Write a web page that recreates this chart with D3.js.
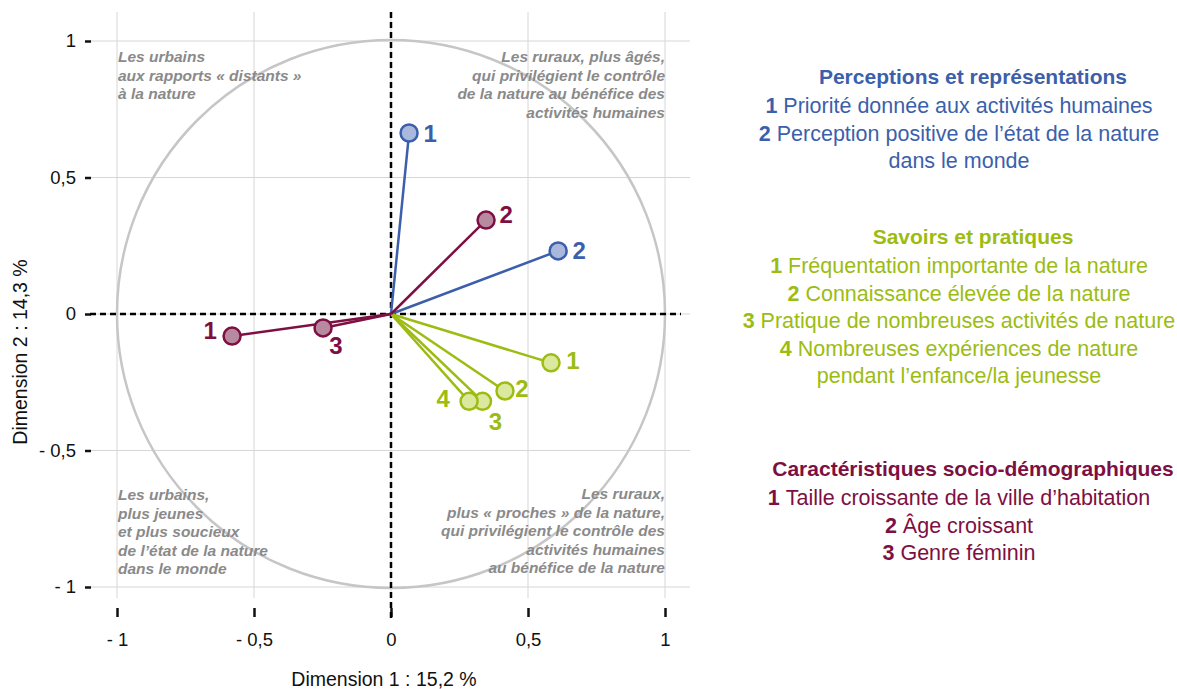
<!DOCTYPE html>
<html><head><meta charset="utf-8">
<script src="https://cdn.jsdelivr.net/npm/d3@7"></script>
<style>
body{margin:0;background:#fff;}
svg{display:block;font-family:"Liberation Sans",Arial,Helvetica,sans-serif;}
</style></head>
<body><svg id="chart" width="1177" height="689"></svg>
<script>
// ---- data ----
const groupKeys = ["perc", "sav", "soc"];
const groupTitles = ["Perceptions et représentations", "Savoirs et pratiques", "Caractéristiques socio-démographiques"];
const varGroup = ["perc", "perc", "sav", "sav", "sav", "sav", "soc", "soc", "soc"];
const varNum   = ["1", "2", "1", "2", "3", "4", "1", "2", "3"];
const dim1     = [0.066, 0.610, 0.584, 0.416, 0.334, 0.285, -0.580, 0.347, -0.248];
const dim2     = [0.663, 0.231, -0.179, -0.282, -0.320, -0.320, -0.081, 0.344, -0.051];
const legendPerc = [["1", "Priorité donnée aux activités humaines"], ["2", "Perception positive de l’état de la nature"], ["", "dans le monde"]];
const legendSav  = [["1", "Fréquentation importante de la nature"], ["2", "Connaissance élevée de la nature"], ["3", "Pratique de nombreuses activités de nature"], ["4", "Nombreuses expériences de nature"], ["", "pendant l’enfance/la jeunesse"]];
const legendSoc  = [["1", "Taille croissante de la ville d’habitation"], ["2", "Âge croissant"], ["3", "Genre féminin"]];
const xTicks = [-1, -0.5, 0, 0.5, 1];
const yTicks = [-1, -0.5, 0, 0.5, 1];
const xTitle = "Dimension 1 : 15,2 %";
const yTitle = "Dimension 2 : 14,3 %";
const quadrantTexts = [
  ["Les urbains", "aux rapports « distants »", "à la nature"],
  ["Les ruraux, plus âgés,", "qui privilégient le contrôle", "de la nature au bénéfice des", "activités humaines"],
  ["Les urbains,", "plus jeunes", "et plus soucieux", "de l’état de la nature", "dans le monde"],
  ["Les ruraux,", "plus « proches » de la nature,", "qui privilégient le contrôle des", "activités humaines", "au bénéfice de la nature"]
];

// ---- layout / style ----
const colors = {perc: "#3c5fab", sav: "#9cbc12", soc: "#7e0f42"};
const fills  = {perc: "#a9b8dc", sav: "#dbe89e", soc: "#b88a9f"};
const labelOffsets = [[21, 0], [21, -1], [22, -3], [17, -3], [13, 20], [-26, -3], [-22, -6], [20, -6], [13, 17]];

const svg = d3.select("#chart");
const x = d3.scaleLinear().domain([-1, 1]).range([117, 665]);
const y = d3.scaleLinear().domain([-1, 1]).range([587, 41]);
const fmt = v => v === 0 ? "0" : (v < 0 ? "- " : "") + String(Math.abs(v)).replace(".", ",");

// grid
const grid = svg.append("g");
grid.selectAll("line.h").data(yTicks).join("line")
  .attr("x1", 90).attr("x2", 690).attr("y1", d => y(d)).attr("y2", d => y(d))
  .attr("stroke", "#d6d6d6").attr("stroke-width", 1);
grid.selectAll("line.v").data(xTicks).join("line")
  .attr("y1", 12).attr("y2", 598).attr("x1", d => x(d)).attr("x2", d => x(d))
  .attr("stroke", "#d6d6d6").attr("stroke-width", 1);

// x axis
const xAxis = d3.axisBottom(x).tickValues(xTicks).tickFormat(fmt).tickSize(9).tickPadding(16);
const gx = svg.append("g").attr("transform", "translate(0,608)").call(xAxis);
gx.select(".domain").remove();
gx.selectAll(".tick line").attr("stroke", "#111").attr("stroke-width", 2.5);
gx.selectAll(".tick text").attr("font-size", 18.5).attr("fill", "#111")
  .attr("font-family", "Liberation Sans, Arial, sans-serif");

// y axis
const yAxis = d3.axisLeft(y).tickValues(yTicks).tickFormat(fmt).tickSize(6).tickPadding(9);
const gy = svg.append("g").attr("transform", "translate(91,0)").call(yAxis);
gy.select(".domain").remove();
gy.selectAll(".tick line").attr("stroke", "#111").attr("stroke-width", 2.5);
gy.selectAll(".tick text").attr("font-size", 18.5).attr("fill", "#111")
  .attr("font-family", "Liberation Sans, Arial, sans-serif");

// axis titles
svg.append("text").attr("x", 384).attr("y", 686).attr("text-anchor", "middle")
  .attr("font-size", 19.5).attr("fill", "#111").text(xTitle);
svg.append("text").attr("transform", "translate(27,352) rotate(-90)").attr("text-anchor", "middle")
  .attr("font-size", 19.5).attr("fill", "#111").text(yTitle);

// unit circle
svg.append("circle").attr("cx", x(0)).attr("cy", y(0)).attr("r", x(1) - x(0))
  .attr("fill", "none").attr("stroke", "#c6c6c6").attr("stroke-width", 2.5);

// quadrant texts
const qPos = [
  {x: x(-1) + 1, y: 62, anchor: "start"},
  {x: x(1), y: 62, anchor: "end"},
  {x: x(-1) + 1, y: 500, anchor: "start"},
  {x: x(1), y: 499, anchor: "end"}
];
quadrantTexts.forEach((lines, i) => {
  const t = svg.append("text").attr("x", qPos[i].x).attr("y", qPos[i].y)
    .attr("text-anchor", qPos[i].anchor).attr("font-size", 15.5)
    .attr("font-weight", "bold").attr("font-style", "italic").attr("fill", "#8a8a8a");
  lines.forEach((l, j) => t.append("tspan").attr("x", qPos[i].x).attr("dy", j === 0 ? 0 : 18.6).text(l));
});

// dashed axes
svg.append("line").attr("x1", 90).attr("x2", 681).attr("y1", y(0)).attr("y2", y(0))
  .attr("stroke", "#000").attr("stroke-width", 2.5).attr("stroke-dasharray", "6,4");
svg.append("line").attr("y1", 12).attr("y2", 620).attr("x1", x(0)).attr("x2", x(0))
  .attr("stroke", "#000").attr("stroke-width", 2.5).attr("stroke-dasharray", "6,4");

// vectors
const idx = d3.range(dim1.length);
svg.append("g").selectAll("line").data(idx).join("line")
  .attr("x1", x(0)).attr("y1", y(0)).attr("x2", i => x(dim1[i])).attr("y2", i => y(dim2[i]))
  .attr("stroke", i => colors[varGroup[i]]).attr("stroke-width", 2.5);
svg.append("g").selectAll("circle").data(idx).join("circle")
  .attr("cx", i => x(dim1[i])).attr("cy", i => y(dim2[i])).attr("r", 8.5)
  .attr("fill", i => fills[varGroup[i]]).attr("stroke", i => colors[varGroup[i]]).attr("stroke-width", 2.5);
svg.append("g").selectAll("text").data(idx).join("text")
  .attr("x", i => x(dim1[i]) + labelOffsets[i][0]).attr("y", i => y(dim2[i]) + labelOffsets[i][1])
  .attr("dy", "0.36em").attr("text-anchor", "middle").attr("font-size", 24).attr("font-weight", "bold")
  .attr("fill", i => colors[varGroup[i]]).text(i => varNum[i]);

// legend
const legends = [legendPerc, legendSav, legendSoc];
const legTitleY = [84, 244, 476];
legends.forEach((items, g) => {
  const key = groupKeys[g];
  svg.append("text").attr("x", 973).attr("y", legTitleY[g]).attr("text-anchor", "middle")
    .attr("font-size", 21).attr("font-weight", "bold").attr("fill", colors[key]).text(groupTitles[g]);
  items.forEach((it, j) => {
    const t = svg.append("text").attr("x", 959).attr("y", legTitleY[g] + 29 + j * 27.5)
      .attr("text-anchor", "middle").attr("font-size", 21.5).attr("fill", colors[key]);
    if (it[0]) t.append("tspan").attr("font-weight", "bold").text(it[0] + " ");
    t.append("tspan").text(it[1]);
  });
});
</script></body></html>
